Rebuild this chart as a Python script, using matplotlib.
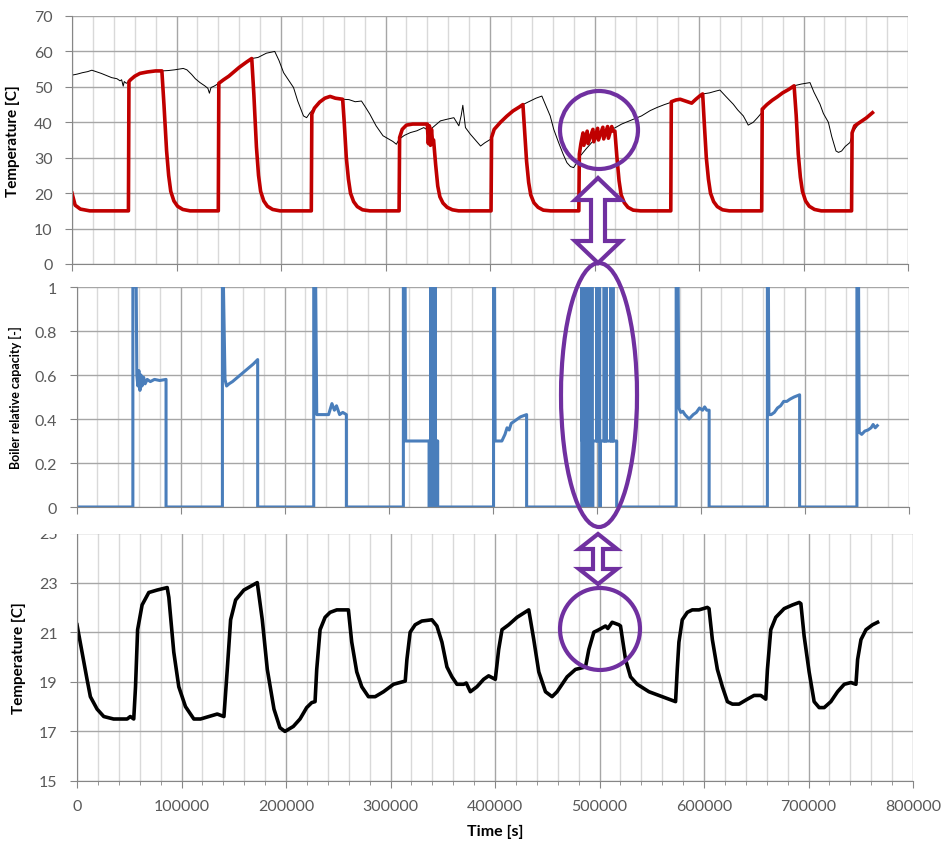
import matplotlib
matplotlib.use('Agg')
import matplotlib.pyplot as plt
import matplotlib.ticker
from matplotlib.patches import Ellipse, Polygon, Rectangle

plt.rcParams['font.family'] = ['Lato', 'DejaVu Sans']

# --- top panel: supply temperature (red) and tank temperature (thin black) ---
supply_t = [0, 3000, 8000, 17000, 54000, 54500, 56000, 60000, 65000, 72000, 80000, 86000,
            88000, 90500, 92500, 94500, 97500, 101000, 106000, 113000, 140000,
            140500, 145000, 150000, 160000, 167000, 172000,
            174000, 176500, 178500, 180500, 183500, 187000, 192000, 199000, 229000,
            229500, 232000, 237000, 242000, 247000, 252000, 259000,
            260500, 262500, 264500, 266500, 269500, 273000, 278000, 285000, 313000,
            313500, 316000, 320000, 326000, 340000, 341000, 342000, 343000, 344000, 345000, 346000,
            348000, 350000, 352000, 355000, 359000, 364000, 370000, 401000,
            401500, 404000, 410000, 416000, 422000, 428000, 431500,
            433000, 435000, 437000, 439000, 442000, 446000, 451000, 458000, 485000,
            485500, 487000, 489000, 489800, 493000, 493800, 498500, 499300, 503000, 503800,
            508000, 508800, 512500, 513300, 516500, 517500, 519500,
            521500, 523500, 525500, 528500, 532000, 537000, 544000, 573000,
            573500, 578000, 582000, 587000, 593000, 597000, 601000, 603500,
            605000, 607000, 609000, 611000, 614000, 617500, 622500, 629000, 660000,
            660500, 665000, 670000, 675000, 680000, 686000, 691000,
            693000, 695000, 697000, 699000, 702000, 705500, 710500, 717000, 746000,
            746500, 749000, 754000, 760000, 766000]
supply_T = [20, 16.6, 15.5, 15, 15, 51.5, 52, 53, 53.8, 54.2, 54.5, 54.5,
            45, 32, 25, 20.5, 17.8, 16.3, 15.4, 15, 15,
            51, 52, 53, 55.5, 57, 58,
            48, 33, 25, 20.5, 17.8, 16.3, 15.4, 15, 15,
            42.3, 44, 45.7, 46.8, 47.3, 46.8, 46.5,
            40, 30, 24, 20, 17.6, 16.2, 15.3, 15, 15,
            35.7, 38, 39.2, 39.5, 39.5, 34, 39, 33.5, 38, 34.5, 35,
            28, 22, 19, 17.2, 16, 15.3, 15, 15,
            35.7, 38, 40, 41.7, 43.2, 44.3, 45,
            38, 29, 23, 19.5, 17.3, 16, 15.2, 15, 15,
            31, 34, 37, 33.5, 37.5, 34, 38, 34.5, 38.3, 35,
            38.6, 35.3, 38.8, 35.5, 38.8, 37.5, 37.5,
            30, 23.5, 19.5, 17.3, 16, 15.2, 15, 15,
            45.8, 46.3, 46.5, 46, 45.4, 46.5, 47.5, 48,
            40, 30, 24, 20, 17.6, 16.2, 15.3, 15, 15,
            43.7, 45, 46.2, 47.2, 48.3, 49.3, 50.3,
            42, 31, 24.5, 20.5, 17.8, 16.3, 15.4, 15, 15,
            37, 39, 40, 41.2, 42.7]

tank_t = [0, 5000, 10000, 15000, 19000, 23000, 28000, 33000, 38000, 43000, 46000, 47500, 49000,
          50000, 52000, 54500, 60000, 65000, 72000, 80000, 86000, 92000, 98000, 106500, 110000,
          114500, 118000, 122500, 127000, 130000, 131500, 133000, 136000, 140500, 150000, 160000,
          167000, 172000, 178000, 186000, 194000, 198000, 202500, 207000, 212000, 216000, 221500,
          224500, 227800, 232000, 237000, 242000, 247000, 252000, 259000, 265000, 271000, 277000,
          281000, 285000, 291000, 297600, 303000, 307000, 310400, 313000, 318000, 323900, 330000,
          336600, 342000, 345000, 352600, 358000, 365400, 370200, 372500, 374000, 375500, 376500,
          381300, 386000, 391000, 395000, 400500, 404000, 410000, 416000, 422000, 428000, 431500,
          438500, 444000, 449600, 453000, 457600, 461000, 465600, 470000, 473600, 477000, 480000,
          483000, 486400, 492000, 498000, 505500, 512000, 520000, 526000, 537400, 545000, 553300,
          560000, 567000, 573000, 578000, 582000, 587000, 593000, 597000, 601000, 603500, 610000,
          616000, 620000, 626000, 632800, 637000, 642400, 645000, 647100, 651900, 656000, 660000,
          665000, 670000, 675000, 680000, 686000, 691000, 698000, 706200, 710000, 715800, 719000,
          723800, 727000, 731100, 733500, 736500, 740000, 744500, 747700, 754000, 760000, 766000]
tank_T = [53.3, 53.6, 54, 54.3, 54.7, 54.3, 53.8, 53.2, 52.6, 52.3, 51.7, 52, 50.2,
          51.5, 51, 51.5, 53, 53.8, 54.2, 54.5, 54.5, 54.6, 54.8, 55.2, 54.8,
          53.5, 52.3, 51.2, 50.3, 49.6, 48.2, 49.8, 50.2, 51, 53, 55.5,
          57, 58, 58.3, 59.5, 60, 57.5, 54, 52, 49.8, 46, 41.8,
          41.3, 42.7, 44, 45.7, 46.8, 47.3, 46.8, 46.5, 46.4, 45.8, 46,
          44.2, 42.3, 39, 36.2, 35.3, 34.6, 33.8, 35.2, 36.3, 37.1, 37.6,
          38.5, 37.5, 38.5, 40.4, 40.8, 41.3, 39, 42, 44.8, 41, 38.5,
          36.6, 35, 33.3, 34.2, 35.2, 38, 40, 41.7, 43.2, 44.3, 45,
          46, 46.8, 47.4, 45, 41.8, 38, 34.3, 31, 28.6, 27.5, 27.2,
          28.5, 30.5, 32.5, 34.5, 36.2, 37.3, 38.5, 39.5, 40.9, 41.8, 43.3,
          44.2, 45, 45.6, 46.3, 46.5, 46, 45.4, 46.5, 47.5, 48, 48.3,
          48.8, 49.1, 47.2, 45.1, 43.5, 41.8, 40.4, 39.2, 40, 41.3, 42.7,
          45, 46.2, 47.2, 48.3, 49.3, 50.3, 50.8, 51.2, 48.5, 45.1, 42.5,
          40, 36, 31.9, 31.5, 31.9, 33.2, 34.3, 37.5, 40, 41.2, 42.7]

# --- middle panel: boiler relative capacity ---
cap_t = [0, 54200, 54200, 57400, 58000, 59000, 60000, 61000, 62000, 63000, 64500, 66000, 68000,
         71000, 75000, 80000, 86100, 86100,
         140300, 140300, 141300, 142800, 144300, 146700, 150000, 155000, 160000, 165000, 170000,
         174200, 174200,
         228100, 228100, 230000, 231000, 236000, 242400, 245600, 248000, 250000, 253000, 256000,
         259500, 259500,
         314300, 314300, 316000, 316500, 339000, 339000, 339600, 339600, 340200, 340200, 340500,
         340500, 341000, 341000, 341500, 341500, 342000, 342000, 342500, 342500, 343000, 343000,
         343600, 343600, 344100, 344100, 344500, 344500, 345000, 345000, 345600, 345600, 346200,
         346200, 346800, 346800, 347300, 347300,
         401000, 401000, 402000, 402500, 409000, 412000, 414000, 416000, 418000, 421000, 424000,
         427000, 432800, 432800,
         485800, 485800, 486300, 486300, 486800, 486800, 487300, 487300, 488000, 488000, 488400,
         488400, 489000, 489000, 489600, 489600, 490100, 490100, 490600, 490600, 491000, 491000,
         491600, 491600, 492300, 492300, 493100, 493100, 493500, 493500, 495400, 495400, 495800,
         495800, 496500, 496500, 500200, 500200, 500600, 500600, 502700, 502700, 503100, 503100,
         503800, 503800, 507200, 507200, 507600, 507600, 508900, 508900, 509300, 509300, 513700,
         513700, 514100, 514100, 515600, 515600, 516000, 516000, 519400, 519400,
         576600, 576600, 578500, 579200, 581000, 583000, 585000, 587000, 589000, 591000, 593000,
         596000, 599000, 602000, 604000, 606000, 608300, 608300,
         664300, 664300, 665300, 665800, 668000, 671000, 674000, 677000, 680000, 683000, 686000,
         690000, 695300, 695300,
         750400, 750400, 752000, 752600, 755000, 758000, 761000, 764000, 766000, 768000, 770000]
cap_v = [0, 0, 1, 1, 0.6, 0.55, 0.62, 0.53, 0.6, 0.55, 0.59, 0.56, 0.58,
         0.57, 0.58, 0.575, 0.58, 0,
         0, 1, 1, 0.58, 0.55, 0.56, 0.57, 0.59, 0.61, 0.63, 0.65,
         0.67, 0,
         0, 1, 1, 0.42, 0.42, 0.42, 0.47, 0.44, 0.46, 0.42, 0.43,
         0.42, 0,
         0, 1, 1, 0.3, 0.3, 0, 0, 0.3, 0.3, 0, 0,
         1, 1, 0, 0, 0.3, 0.3, 0, 0, 1, 1, 0,
         0, 0.3, 0.3, 0, 0, 1, 1, 0, 0, 0.3, 0.3,
         0, 0, 0.3, 0.3, 0,
         0, 1, 1, 0.3, 0.3, 0.33, 0.36, 0.35, 0.38, 0.39, 0.4,
         0.41, 0.42, 0,
         0, 1, 1, 0.3, 0.3, 0, 0, 0.3, 0.3, 1, 1,
         0, 0, 0.3, 0.3, 0, 0, 0.3, 0.3, 1, 1, 0,
         0, 0.3, 0.3, 0, 0, 1, 1, 0.3, 0.3, 1, 1,
         0, 0, 0.3, 0.3, 1, 1, 0.3, 0.3, 1, 1, 0,
         0, 0.3, 0.3, 1, 1, 0.3, 0.3, 1, 1, 0.3, 0.3,
         1, 1, 0.3, 0.3, 1, 1, 0.3, 0.3, 0,
         0, 1, 1, 0.45, 0.43, 0.435, 0.42, 0.41, 0.4, 0.41, 0.42,
         0.43, 0.45, 0.44, 0.455, 0.44, 0.44, 0,
         0, 1, 1, 0.42, 0.42, 0.43, 0.45, 0.46, 0.48, 0.48, 0.49,
         0.5, 0.51, 0,
         0, 1, 1, 0.34, 0.33, 0.345, 0.35, 0.36, 0.375, 0.36, 0.37]

# --- bottom panel: room temperature ---
room_t = [0, 4800, 9600, 12800, 19200, 25600, 35000, 48000, 51000, 54300, 56000, 58000, 62300,
          68700, 76700, 86300, 87900, 92600, 97400, 103800, 111800, 118200, 126200, 134200,
          140600, 143800, 147000, 151800, 159700, 172500, 177300, 182100, 188500, 194200, 199000,
          207000, 213400, 219800, 224600, 227800, 229400, 232600, 237400, 242200, 248600, 259700,
          262900, 267700, 272500, 278900, 285300, 293300, 302900, 314100, 315700, 318800, 323600,
          330000, 339600, 344400, 349200, 354000, 358800, 363600, 370000, 372500, 376400, 382700,
          389100, 393900, 400300, 403500, 406700, 413100, 421100, 432300, 437100, 441900, 448300,
          454600, 459400, 469000, 477000, 486600, 489800, 494600, 499400, 505800, 508000, 512100,
          518500, 520100, 524900, 529700, 536100, 547300, 560100, 572800, 574400, 576000, 579200,
          584000, 588800, 595200, 603200, 604800, 608000, 612800, 617600, 622400, 627200, 633500,
          641500, 647900, 654300, 659100, 660700, 663900, 668700, 676700, 684700, 691100, 692700,
          695800, 700600, 705400, 710200, 715000, 721400, 727800, 734200, 740600, 745400, 747000,
          750200, 755000, 761300, 766100]
room_T = [21.3, 20.2, 19.1, 18.4, 17.9, 17.6, 17.5, 17.5, 17.6, 17.5, 18.8, 21.1, 22.1,
          22.6, 22.7, 22.8, 22.4, 20.2, 18.8, 18.0, 17.5, 17.5, 17.6, 17.7,
          17.6, 19.5, 21.5, 22.3, 22.7, 23.0, 21.5, 19.5, 17.9, 17.15, 17.0,
          17.2, 17.5, 17.96, 18.16, 18.2, 19.5, 21.1, 21.6, 21.8, 21.9, 21.9,
          20.6, 19.4, 18.8, 18.4, 18.4, 18.6, 18.9, 19.03, 19.9, 21.0, 21.3,
          21.45, 21.5, 21.25, 20.6, 19.6, 19.2, 18.9, 18.9, 18.95, 18.6, 18.8,
          19.1, 19.24, 19.1, 20.3, 21.1, 21.3, 21.6, 21.9, 20.7, 19.4, 18.6,
          18.4, 18.6, 19.2, 19.5, 19.6, 20.3, 21.0, 21.1, 21.25, 21.15, 21.4,
          21.3, 21.25, 19.9, 19.2, 18.9, 18.6, 18.4, 18.2, 19.5, 20.6, 21.5,
          21.8, 21.9, 21.9, 22.0, 21.95, 20.7, 19.5, 18.8, 18.2, 18.1, 18.1,
          18.3, 18.45, 18.45, 18.3, 19.5, 21.1, 21.6, 21.95, 22.1, 22.2, 22.15,
          20.85, 19.4, 18.2, 17.96, 17.96, 18.2, 18.6, 18.9, 18.97, 18.9, 19.9,
          20.7, 21.1, 21.3, 21.4]

W, H = 946, 845
fig = plt.figure(figsize=(W / 100, H / 100), dpi=100)


def px_box(left, right, top, bottom):
    return [left / W, 1 - bottom / H, (right - left) / W, (bottom - top) / H]


ax1 = fig.add_axes(px_box(72, 908, 17, 265))
ax2 = fig.add_axes(px_box(76.5, 908.5, 288, 508))
ax3 = fig.add_axes(px_box(77, 913, 534, 782))
ax2.set_zorder(1)

grid_major = '#a6a6a6'
grid_minor = '#d9d9d9'
axis_col = '#868686'
text_col = '#595959'

for a in (ax1, ax2, ax3):
    a.set_xlim(0, 800000)
    a.set_axisbelow(True)
    a.xaxis.set_major_locator(matplotlib.ticker.MultipleLocator(100000))
    a.xaxis.set_minor_locator(matplotlib.ticker.MultipleLocator(20000))
    a.grid(True, which='major', axis='both', color=grid_major, lw=1)
    a.grid(True, which='minor', axis='x', color=grid_minor, lw=1)
    for s in ('top', 'right'):
        a.spines[s].set_visible(False)
    for s in ('left', 'bottom'):
        a.spines[s].set_color(axis_col)
    a.tick_params(which='major', direction='out', length=5, color=axis_col,
                  labelsize=11.5, labelcolor=text_col)
    a.tick_params(axis='y', pad=9)
    a.tick_params(which='minor', length=0)

ax1.plot(tank_t, tank_T, color='black', lw=0.7)
ax1.plot(supply_t, supply_T, color='#c00000', lw=2.6)
ax1.set_ylim(0, 70)
ax1.yaxis.set_major_locator(matplotlib.ticker.MultipleLocator(10))
ax1.set_ylabel('Temperature [C]', fontsize=11, fontweight='bold')
ax1.yaxis.set_label_coords(-0.062, 0.5)
ax1.tick_params(axis='x', labelbottom=False)

ax2.plot(cap_t, cap_v, color='#4a7ebb', lw=2.2)
ax2.set_ylim(0, 1)
ax2.set_yticks([0, 0.2, 0.4, 0.6, 0.8, 1])
ax2.set_yticklabels(['0', '0.2', '0.4', '0.6', '0.8', '1'])
ax2.set_ylabel('Boiler relative capacity [-]', fontsize=9, fontweight='bold')
ax2.yaxis.set_label_coords(-0.066, 0.5)
ax2.tick_params(axis='x', labelbottom=False)

ax3.plot(room_t, room_T, color='black', lw=2.6)
ax3.set_ylim(15, 25)
ax3.set_yticks([15, 17, 19, 21, 23, 25])
ax3.set_ylabel('Temperature [C]', fontsize=11, fontweight='bold')
ax3.yaxis.set_label_coords(-0.061, 0.5)
ax3.tick_params(axis='x', which='minor', length=3, color=axis_col)
ax3.tick_params(axis='x', pad=8)
ax3.set_xlabel('Time [s]', fontsize=11.5, fontweight='bold', labelpad=8)
ax3.xaxis.set_major_formatter(matplotlib.ticker.FuncFormatter(lambda v, p: f'{v:.0f}'))

# top of the bottom chart is hidden under the middle one
fig.patches.append(Rectangle((0, 1 - 535 / H), 1, 20 / H, transform=fig.transFigure,
                             facecolor='white', edgecolor='none', zorder=0.5))

# purple highlight marks
purple = '#7030a0'


def fpt(x, y):
    return (x / W, 1 - y / H)


def ring(cx, cy, w, h):
    fig.patches.append(Ellipse(fpt(cx, cy), w / W, h / H, transform=fig.transFigure,
                               fill=False, edgecolor=purple, lw=3, zorder=10))


def double_arrow(cx, y1, y2, hw, sw, hl):
    pts = [(cx, y1), (cx + hw, y1 + hl), (cx + sw, y1 + hl), (cx + sw, y2 - hl),
           (cx + hw, y2 - hl), (cx, y2), (cx - hw, y2 - hl), (cx - sw, y2 - hl),
           (cx - sw, y1 + hl), (cx - hw, y1 + hl)]
    fig.patches.append(Polygon([fpt(x, y) for x, y in pts], closed=True,
                               transform=fig.transFigure, facecolor='white',
                               edgecolor=purple, lw=3, zorder=10))


ring(599, 131, 78, 78)
ring(599, 396, 76, 264)
ring(600, 630, 80, 82)
double_arrow(598, 179, 264, 23, 7, 22)
double_arrow(598, 535, 585, 19, 5, 15)

plt.savefig('out.png', dpi=100)
